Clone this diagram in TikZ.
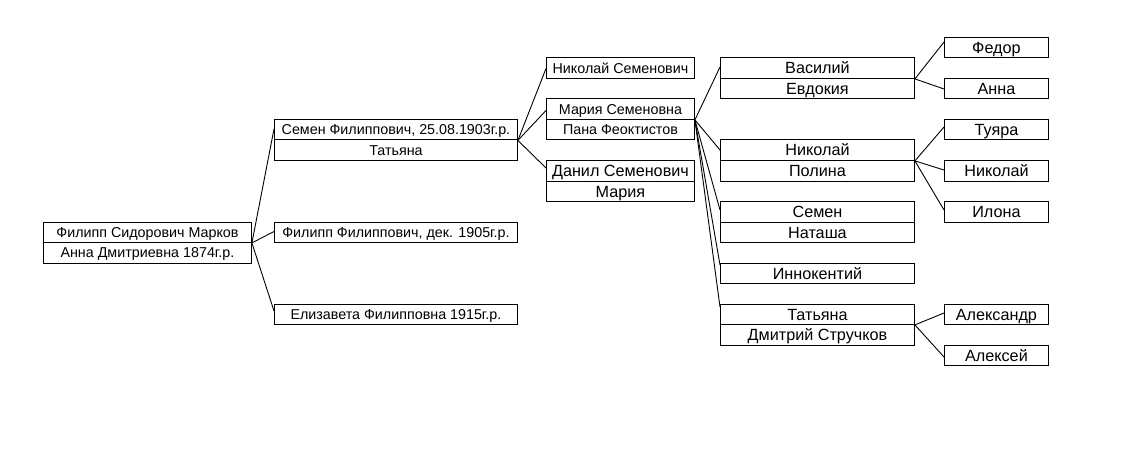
\documentclass[tikz,border=0pt]{standalone}
\usepackage{fontspec}
\setmainfont{Liberation Sans}
\begin{document}
\begin{tikzpicture}[x=1pt,y=-1pt,
  box/.style={draw, line width=0.9pt, inner sep=0pt, anchor=north west,
    minimum height=20.5pt, text height=10.3pt, text depth=0pt,
    font=\fontsize{14.3}{16}\selectfont},
  big/.style={font=\fontsize{16.2}{18}\selectfont, text height=11.6pt},
  w1/.style={minimum width=208pt},
  w2/.style={minimum width=243pt},
  w3/.style={minimum width=148pt},
  w4/.style={minimum width=194pt, big},
  w5/.style={minimum width=104pt, big},
  link/.style={line width=0.9pt}]
\useasboundingbox (0,0) rectangle (1147,449);

% column 1
\node[box,w1] (rootA) at (43,221.5) {Филипп Сидорович Марков};
\node[box,w1] (rootB) at (43,242) {Анна Дмитриевна 1874г.р.};

% column 2
\node[box,w2] (semA) at (274,119) {Семен Филиппович, 25.08.1903г.р.};
\node[box,w2] (semB) at (274,139.5) {Татьяна};
\node[box,w2] (fil) at (274,221.5) {Филипп Филиппович, дек. 1905г.р.};
\node[box,w2] (eliz) at (274,303.5) {Елизавета Филипповна 1915г.р.};

% column 3
\node[box,w3] (nikS) at (546,57.5) {Николай Семенович};
\node[box,w3] (marA) at (546,98.5) {Мария Семеновна};
\node[box,w3] (marB) at (546,119) {Пана Феоктистов};
\node[box,w3,big] (danA) at (546,160) {Данил Семенович};
\node[box,w3,big] (danB) at (546,180.5) {Мария};

% column 4
\node[box,w4] (vasA) at (720,57.5) {Василий};
\node[box,w4] (vasB) at (720,78) {Евдокия};
\node[box,w4] (nikA) at (720,139.5) {Николай};
\node[box,w4] (nikB) at (720,160) {Полина};
\node[box,w4] (semcA) at (720,201) {Семен};
\node[box,w4] (semcB) at (720,221.5) {Наташа};
\node[box,w4] (inn) at (720,262.5) {Иннокентий};
\node[box,w4] (tatA) at (720,303.5) {Татьяна};
\node[box,w4] (tatB) at (720,324) {Дмитрий Стручков};

% column 5
\node[box,w5] (fed) at (944,37) {Федор};
\node[box,w5] (anna) at (944,78) {Анна};
\node[box,w5] (tuy) at (944,119) {Туяра};
\node[box,w5] (nik5) at (944,160) {Николай};
\node[box,w5] (ilo) at (944,201) {Илона};
\node[box,w5] (alexandr) at (944,303.5) {Александр};
\node[box,w5] (aleks) at (944,344.5) {Алексей};

% connectors
\foreach \c/\o in {semA/10, fil/10, eliz/7.5}
  \draw[link] (rootA.south east) -- ([yshift=-\o pt]\c.north west);
\foreach \c/\o in {nikS/11, marA/12, danA/8}
  \draw[link] (semA.south east) -- ([yshift=-\o pt]\c.north west);
\foreach \c/\o in {vasA/9.5, nikA/10.5, semcA/9, inn/2.5, tatA/3.5}
  \draw[link] (marA.south east) -- ([yshift=-\o pt]\c.north west);
\foreach \c/\o in {fed/5, anna/11}
  \draw[link] (vasA.south east) -- ([yshift=-\o pt]\c.north west);
\foreach \c/\o in {tuy/8, nik5/10, ilo/9}
  \draw[link] (nikA.south east) -- ([yshift=-\o pt]\c.north west);
\foreach \c/\o in {alexandr/9.5, aleks/12.5}
  \draw[link] (tatA.south east) -- ([yshift=-\o pt]\c.north west);
\end{tikzpicture}
\end{document}
